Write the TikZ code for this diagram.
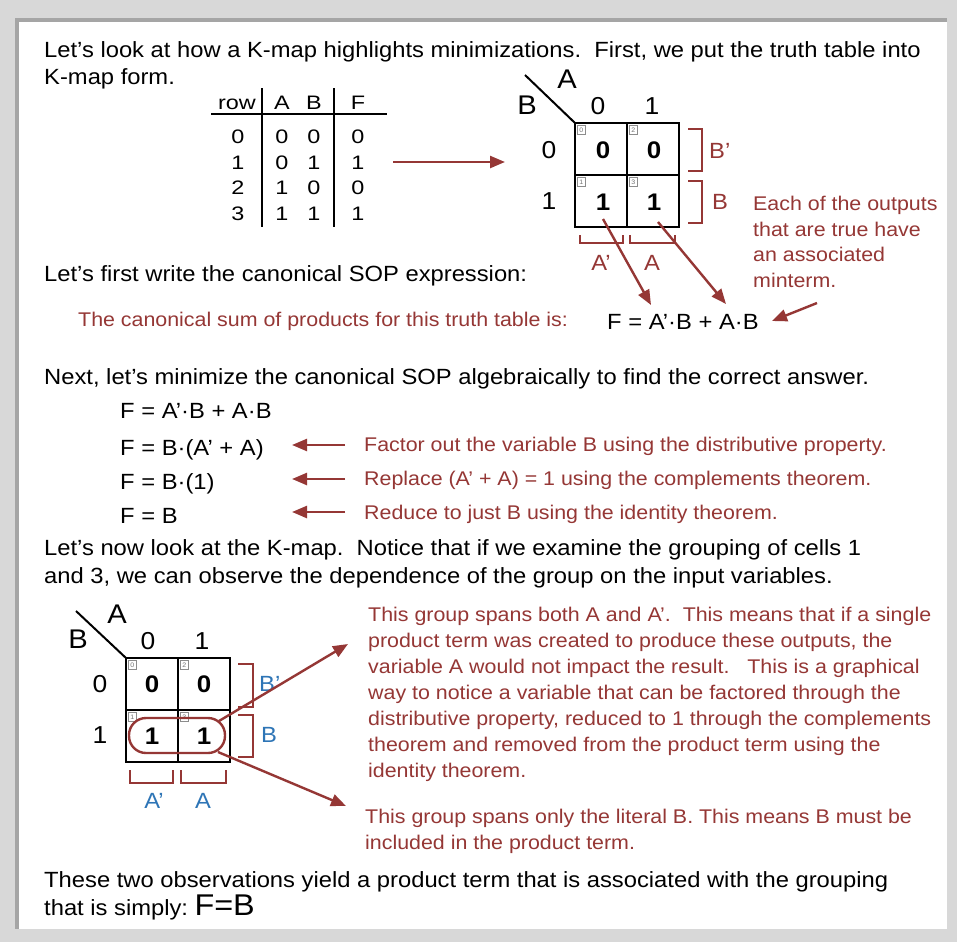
\documentclass[tikz,border=0pt]{standalone}
\usepackage{fontspec}
\setmainfont{Liberation Sans}[FakeStretch=1.08]
\newfontfamily\tabfont{Liberation Sans}[FakeStretch=1.2]
\usetikzlibrary{arrows.meta}
\definecolor{myred}{RGB}{149,55,53}
\definecolor{myblue}{RGB}{46,117,182}
\definecolor{frameout}{RGB}{216,216,216}
\definecolor{frameedge}{RGB}{165,165,165}
\tikzset{
  txt/.style={anchor=base west, inner sep=0pt, font=\fontsize{22}{26}\selectfont},
  rtxt/.style={anchor=base west, inner sep=0pt, text=myred, font=\fontsize{19.8}{26}\selectfont},
  ctxt/.style={anchor=base, inner sep=0pt, font=\tabfont\fontsize{19.5}{24}\selectfont},
  hdr/.style={anchor=center, inner sep=0pt, font=\fontsize{24.5}{26}\selectfont},
  big/.style={anchor=center, inner sep=0pt, font=\fontsize{27}{28}\selectfont},
  cellv/.style={anchor=center, inner sep=0pt, font=\fontsize{24}{26}\bfseries\selectfont},
  lbl/.style={inner sep=0pt, font=\fontsize{22}{24}\selectfont},
  grid/.style={line width=2.8pt, line cap=rect},
  brk/.style={draw=myred, line width=2.6pt},
  idx/.style={draw=black!45, line width=0.6pt, minimum width=8pt, minimum height=9pt, inner sep=0pt, anchor=north west, text=black!55, font=\fontsize{6.5}{7}\selectfont},
  rarrow/.style={draw=myred, line width=2.4pt, -{Triangle[length=15pt,width=12pt]}},
  ttline/.style={line width=2.6pt},
}
\begin{document}
\begin{tikzpicture}[x=1pt,y=-1pt]
\useasboundingbox (0,0) rectangle (957,942);
% frame
\fill[frameout] (0,0) rectangle (957,942);
\fill[frameedge] (15,18) rectangle (947,929);
\fill[white] (19,22) rectangle (947,929);

% intro text
\node[txt] (t1) at (44,57) {Let’s look at how a K-map highlights minimizations.\ \ First, we put the truth table into};
\node[txt] (t2) at (44,84) {K-map form.};

% truth table
\node[ctxt, anchor=base east] (hrow) at (256,109) {row};
\node[ctxt] (hA) at (282,109) {A};
\node[ctxt] (hB) at (314,109) {B};
\node[ctxt] (hF) at (358,109) {F};
\foreach \r/\a/\b/\f/\y in {0/0/0/0/143, 1/0/1/1/169, 2/1/0/0/194, 3/1/1/1/220}{
  \node[ctxt] (r\r) at (238,\y) {\r};
  \node[ctxt] (a\r) at (282,\y) {\a};
  \node[ctxt] (b\r) at (314,\y) {\b};
  \node[ctxt] (f\r) at (358,\y) {\f};
}
\coordinate (hl1) at (211,114); \coordinate (hl2) at (387,114);
\coordinate (v1a) at (262,88); \coordinate (v1b) at (262,227);
\coordinate (v2a) at (334,88); \coordinate (v2b) at (334,227);
\draw[ttline] (hl1) -- (hl2);
\draw[ttline] (v1a) -- (v1b);
\draw[ttline] (v2a) -- (v2b);

% main arrow
\coordinate (ma1) at (393,162); \coordinate (ma2) at (505,162);
\draw[rarrow] (ma1) -- (ma2);

% top K-map
\coordinate (k1tl) at (575,123); \coordinate (k1br) at (679,227);
\draw[grid] (k1tl) rectangle (k1br);
\draw[grid] (627,123) -- (627,227);
\draw[grid] (575,175) -- (679,175);
\coordinate (k1d) at (525,75);
\draw[line width=2pt] (k1tl) -- (k1d);
\node[big] (k1A) at (567,79) {A};
\node[big] (k1B) at (527,105) {B};
\node[hdr] (k1c0) at (598,106) {0};
\node[hdr] (k1c1) at (652,106) {1};
\node[hdr] (k1r0) at (549,150) {0};
\node[hdr] (k1r1) at (549,201) {1};
\node[cellv] (k1v0) at (603,150) {0};
\node[cellv] (k1v2) at (654,150) {0};
\node[cellv] (k1v1) at (603,202) {1};
\node[cellv] (k1v3) at (654,202) {1};
\node[idx] (k1i0) at (577,125) {0};
\node[idx] (k1i2) at (629,125) {2};
\node[idx] (k1i1) at (577,177) {1};
\node[idx] (k1i3) at (629,177) {3};
% brackets top map
\draw[brk] (688,129) -- (702,129) -- (702,171) -- (688,171);
\draw[brk] (688,181) -- (702,181) -- (702,223) -- (688,223);
\draw[brk] (580,235) -- (580,243) -- (623,243) -- (623,235);
\draw[brk] (630,235) -- (630,243) -- (675,243) -- (675,235);
\node[lbl, anchor=west, text=myred] (k1bp) at (709,151) {B’};
\node[lbl, anchor=west, text=myred] (k1bb) at (712,202) {B};
\node[lbl, anchor=center, text=myred] (k1ap) at (601,263) {A’};
\node[lbl, anchor=center, text=myred] (k1aa) at (652,263) {A};

% minterm note
\node[rtxt] (n1) at (753,210) {Each of the outputs};
\node[rtxt] (n2) at (753,236) {that are true have};
\node[rtxt] (n3) at (753,261) {an associated};
\node[rtxt] (n4) at (753,287) {minterm.};

% SOP
\node[txt] (t3) at (44,281) {Let’s first write the canonical SOP expression:};
\node[rtxt] (t4) at (78,326) {The canonical sum of products for this truth table is:};
\node[txt] (sop) at (607,329) {F = A’·B + A·B};
\coordinate (ar1s) at (603,219); \coordinate (ar1e) at (651,305);
\coordinate (ar2s) at (658,222); \coordinate (ar2e) at (726,304);
\draw[rarrow] (ar1s) -- (ar1e);
\draw[rarrow] (ar2s) -- (ar2e);
\coordinate (ar3s) at (817,303); \coordinate (ar3e) at (772,321);
\draw[rarrow] (ar3s) -- (ar3e);

% algebra
\node[txt] (t5) at (44,384) {Next, let’s minimize the canonical SOP algebraically to find the correct answer.};
\node[txt] (e1) at (120,418) {F = A’·B + A·B};
\node[txt] (e2) at (120,455) {F = B·(A’ + A)};
\node[txt] (e3) at (120,489) {F = B·(1)};
\node[txt] (e4) at (120,523) {F = B};
\node[rtxt] (m2) at (364,451) {Factor out the variable B using the distributive property.};
\node[rtxt] (m3) at (364,485) {Replace (A’ + A) = 1 using the complements theorem.};
\node[rtxt] (m4) at (364,519) {Reduce to just B using the identity theorem.};
\coordinate (q2s) at (345,445); \coordinate (q2e) at (292,445);
\coordinate (q3s) at (345,479); \coordinate (q3e) at (292,479);
\coordinate (q4s) at (345,512); \coordinate (q4e) at (292,512);
\draw[rarrow] (q2s) -- (q2e);
\draw[rarrow] (q3s) -- (q3e);
\draw[rarrow] (q4s) -- (q4e);

% K-map look
\node[txt] (t6) at (44,555) {Let’s now look at the K-map.\ \ Notice that if we examine the grouping of cells 1};
\node[txt] (t7) at (44,583) {and 3, we can observe the dependence of the group on the input variables.};

% bottom K-map
\coordinate (k2tl) at (126,658); \coordinate (k2br) at (230,762);
\draw[grid] (k2tl) rectangle (k2br);
\draw[grid] (178,658) -- (178,762);
\draw[grid] (126,710) -- (230,710);
\coordinate (k2d) at (76,611);
\draw[line width=2pt] (k2tl) -- (k2d);
\node[big] (k2A) at (117,614) {A};
\node[big] (k2B) at (78,639) {B};
\node[hdr] (k2c0) at (148,641) {0};
\node[hdr] (k2c1) at (202,641) {1};
\node[hdr] (k2r0) at (100,684) {0};
\node[hdr] (k2r1) at (100,735) {1};
\node[cellv] (k2v0) at (152,684) {0};
\node[cellv] (k2v2) at (204,684) {0};
\node[cellv] (k2v1) at (152,736) {1};
\node[cellv] (k2v3) at (204,736) {1};
\node[idx] (k2i0) at (128,660) {0};
\node[idx] (k2i2) at (180,660) {2};
\node[idx] (k2i1) at (128,712) {1};
\node[idx] (k2i3) at (180,712) {3};
\draw[brk] (238,664) -- (253,664) -- (253,707) -- (238,707);
\draw[brk] (238,715) -- (253,715) -- (253,757) -- (238,757);
\draw[brk] (130,770) -- (130,783) -- (173,783) -- (173,770);
\draw[brk] (181,770) -- (181,783) -- (226,783) -- (226,770);
\node[lbl, anchor=west, text=myblue] (k2bp) at (259,684) {B’};
\node[lbl, anchor=west, text=myblue] (k2bb) at (261,735) {B};
\node[lbl, anchor=center, text=myblue] (k2ap) at (154,801) {A’};
\node[lbl, anchor=center, text=myblue] (k2aa) at (203,801) {A};
\draw[draw=myred, line width=2.4pt, rounded corners=17pt] (129,718) rectangle (225,753);
\coordinate (g1s) at (219,721); \coordinate (g1e) at (348,644);
\coordinate (g2s) at (218,752); \coordinate (g2e) at (346,806);
\draw[rarrow] (g1s) -- (g1e);
\draw[rarrow] (g2s) -- (g2e);

% explanation paragraphs
\node[rtxt] (p1) at (368,621) {This group spans both A and A’.\ \ This means that if a single};
\node[rtxt] (p2) at (368,647) {product term was created to produce these outputs, the};
\node[rtxt] (p3) at (368,673) {variable A would not impact the result.\ \ \ This is a graphical};
\node[rtxt] (p4) at (368,699) {way to notice a variable that can be factored through the};
\node[rtxt] (p5) at (368,725) {distributive property, reduced to 1 through the complements};
\node[rtxt] (p6) at (368,751) {theorem and removed from the product term using the};
\node[rtxt] (p7) at (368,777) {identity theorem.};
\node[rtxt] (p8) at (365,823) {This group spans only the literal B. This means B must be};
\node[rtxt] (p9) at (365,849) {included in the product term.};

% conclusion
\node[txt] (t8) at (44,887) {These two observations yield a product term that is associated with the grouping};
\node[txt] (t9) at (44,915) {that is simply:};
\node[txt, font=\fontsize{30}{32}\selectfont] (t10) at (t9.base east) [xshift=6pt] {F=B};
\end{tikzpicture}
\end{document}
